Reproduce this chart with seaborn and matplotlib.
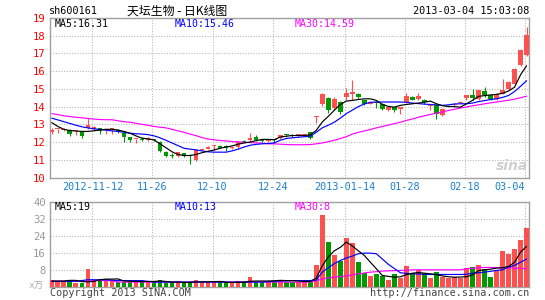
import numpy as np
import pandas as pd
import matplotlib
matplotlib.use("Agg")
import matplotlib.pyplot as plt
import seaborn as sns

# ---------------- data ----------------
opens = [12.56, 12.72, 12.68, 12.69, 12.60, 12.56, 12.81, 12.72, 12.79, 12.66,
         12.72, 12.69, 12.50, 12.28, 12.18, 12.20, 12.10, 12.18, 12.03, 11.45,
         11.26, 11.20, 11.38, 11.26, 11.00, 11.55, 11.60, 11.75, 11.80, 11.80,
         11.68, 11.72, 12.04, 12.10, 12.28, 12.12, 12.05, 12.12, 12.24, 12.40,
         12.41, 12.38, 12.39, 12.56, 13.43, 14.12, 14.50, 13.92, 14.26, 14.54,
         14.73, 14.73, 14.37, 14.15, 14.26, 14.16, 13.80, 13.97, 13.88, 14.26,
         14.54, 14.42, 14.40, 14.05, 14.07, 13.50, 14.00, 14.07, 14.22, 14.46,
         14.63, 14.45, 14.86, 14.63, 14.45, 14.73, 15.01, 15.29, 16.33, 16.90]
closes = [12.69, 12.75, 12.75, 12.43, 12.64, 12.32, 12.98, 12.84, 12.62, 12.70,
          12.77, 12.56, 12.28, 12.10, 12.20, 12.14, 12.24, 12.10, 11.49, 11.24,
          11.22, 11.43, 11.20, 11.22, 11.55, 11.60, 11.72, 11.78, 11.68, 11.68,
          11.71, 12.00, 12.00, 12.22, 12.14, 12.06, 12.10, 12.10, 12.39, 12.37,
          12.32, 12.40, 12.45, 12.24, 13.45, 14.73, 13.82, 14.44, 13.69, 14.76,
          14.82, 14.54, 14.12, 14.26, 14.20, 13.88, 13.97, 13.79, 13.95, 14.60,
          14.40, 14.62, 14.24, 14.07, 13.60, 13.88, 14.01, 14.16, 14.26, 14.63,
          14.46, 14.92, 14.63, 14.42, 14.70, 14.92, 15.38, 16.14, 17.18, 18.02]
highs = [12.80, 12.76, 12.78, 12.72, 12.68, 12.58, 13.37, 12.90, 12.82, 12.75,
         12.80, 12.72, 12.55, 12.30, 12.20, 12.30, 12.26, 12.20, 12.05, 11.47,
         11.40, 11.46, 11.40, 11.34, 11.60, 11.65, 11.75, 11.85, 11.82, 11.82,
         11.74, 12.02, 12.10, 12.50, 12.42, 12.15, 12.12, 12.15, 12.42, 12.42,
         12.43, 12.42, 12.47, 12.58, 13.45, 14.75, 14.52, 14.57, 14.30, 15.05,
         15.50, 14.76, 14.40, 14.30, 14.30, 14.20, 14.00, 14.00, 14.00, 14.75,
         14.58, 14.78, 14.45, 14.10, 14.10, 13.90, 14.05, 14.20, 14.30, 14.66,
         15.00, 14.95, 15.10, 14.66, 14.75, 15.58, 15.42, 16.20, 17.25, 18.49]
lows = [12.45, 12.50, 12.60, 12.35, 12.38, 12.25, 12.75, 12.65, 12.45, 12.45,
        12.45, 12.50, 11.98, 12.02, 11.92, 12.05, 12.05, 12.05, 11.45, 11.18,
        11.12, 11.15, 11.15, 10.77, 10.95, 11.50, 11.58, 11.55, 11.65, 11.47,
        11.60, 11.68, 11.95, 12.08, 12.05, 12.00, 11.98, 12.00, 12.20, 12.30,
        12.28, 12.33, 12.35, 12.20, 13.08, 14.05, 13.66, 13.79, 13.60, 14.38,
        14.40, 14.45, 14.10, 14.12, 13.90, 13.82, 13.75, 13.72, 13.60, 14.20,
        14.35, 14.35, 14.15, 13.80, 13.31, 13.45, 13.95, 14.00, 14.20, 14.35,
        14.40, 14.40, 14.55, 14.38, 14.40, 14.70, 14.95, 15.25, 16.30, 16.85]

ma5 = [13.10, 12.88, 12.72, 12.65, 12.62, 12.60, 12.60, 12.64, 12.68, 12.72,
       12.72, 12.68, 12.60, 12.50, 12.35, 12.22, 12.18, 12.12, 11.90, 11.68,
       11.45, 11.30, 11.24, 11.24, 11.30, 11.40, 11.48, 11.55, 11.65, 11.72,
       11.78, 11.88, 11.95, 12.00, 12.08, 12.15, 12.15, 12.13, 12.28, 12.33,
       12.37, 12.37, 12.37, 12.40, 12.66, 13.13, 13.45, 13.79, 14.12, 14.31,
       14.35, 14.40, 14.44, 14.44, 14.35, 14.12, 14.01, 13.97, 14.07, 14.12,
       14.16, 14.20, 14.25, 14.31, 14.16, 14.05, 14.01, 14.00, 13.97, 14.16,
       14.35, 14.58, 14.62, 14.66, 14.69, 14.75, 14.88, 15.10, 15.80, 16.31]
ma10 = [13.35, 13.25, 13.15, 13.05, 12.95, 12.86, 12.80, 12.75, 12.71, 12.67,
        12.63, 12.60, 12.55, 12.50, 12.47, 12.45, 12.42, 12.35, 12.24, 12.10,
        11.95, 11.80, 11.65, 11.60, 11.56, 11.50, 11.45, 11.43, 11.43, 11.43,
        11.50, 11.60, 11.72, 11.82, 11.87, 11.90, 11.92, 11.95, 12.10, 12.20,
        12.24, 12.27, 12.30, 12.33, 12.55, 12.80, 12.95, 13.12, 13.35, 13.60,
        13.80, 14.00, 14.15, 14.24, 14.26, 14.26, 14.26, 14.26, 14.26, 14.24,
        14.20, 14.17, 14.14, 14.12, 14.10, 14.07, 14.10, 14.15, 14.16, 14.16,
        14.20, 14.28, 14.34, 14.40, 14.44, 14.52, 14.63, 14.85, 15.15, 15.46]
ma30 = [13.60, 13.55, 13.48, 13.44, 13.40, 13.37, 13.33, 13.30, 13.27, 13.26,
        13.26, 13.20, 13.15, 13.12, 13.06, 13.00, 12.95, 12.88, 12.84, 12.80,
        12.72, 12.63, 12.55, 12.45, 12.36, 12.25, 12.17, 12.13, 12.09, 12.06,
        12.03, 12.01, 11.99, 11.97, 11.95, 11.94, 11.90, 11.90, 11.88, 11.86,
        11.85, 11.85, 11.85, 11.86, 11.90, 11.95, 12.02, 12.10, 12.20, 12.30,
        12.45, 12.55, 12.62, 12.71, 12.80, 12.88, 12.96, 13.04, 13.12, 13.22,
        13.30, 13.40, 13.48, 13.56, 13.63, 13.70, 13.78, 13.85, 13.92, 13.98,
        14.05, 14.10, 14.16, 14.21, 14.26, 14.31, 14.36, 14.42, 14.50, 14.59]

volume = [3.3, 2.8, 2.5, 2.1, 1.6, 1.6, 8.4, 2.8, 2.8, 3.2,
          2.8, 2.1, 2.1, 2.1, 2.8, 2.1, 2.8, 2.1, 3.2, 1.6,
          1.6, 2.1, 1.6, 2.1, 3.3, 2.1, 2.1, 2.1, 2.1, 1.6,
          2.1, 2.8, 2.1, 4.7, 2.1, 2.1, 2.1, 2.1, 3.3, 2.1,
          2.1, 2.1, 2.1, 2.8, 10.0, 33.7, 21.0, 14.7, 11.9, 22.9,
          20.6, 11.5, 6.3, 5.2, 5.7, 5.2, 3.3, 5.7, 4.0, 9.5,
          6.3, 7.9, 6.3, 4.0, 6.8, 4.4, 4.1, 4.4, 4.1, 8.7,
          9.2, 10.4, 8.4, 4.7, 7.6, 16.8, 15.5, 17.9, 21.8, 27.7]
vma5 = [2.6, 2.6, 2.6, 2.9, 2.9, 2.3, 2.2, 2.4, 3.2, 3.5,
        3.5, 3.6, 2.6, 2.5, 2.4, 2.3, 2.4, 2.4, 2.6, 2.4,
        2.1, 2.1, 1.9, 1.9, 2.2, 2.2, 2.2, 2.3, 2.4, 2.0,
        1.9, 2.0, 2.0, 2.5, 2.6, 2.6, 2.6, 2.7, 2.9, 2.8,
        2.8, 2.6, 2.4, 2.4, 4.0, 9.8, 14.0, 16.9, 18.5, 21.0,
        19.2, 16.9, 14.7, 11.5, 8.4, 5.2, 4.8, 4.4, 4.6, 5.6,
        6.3, 6.6, 6.3, 6.0, 5.6, 5.0, 4.6, 4.4, 4.5, 4.6,
        5.5, 7.5, 7.9, 8.2, 8.7, 8.9, 9.5, 11.5, 16.3, 19.0]
vma10 = [2.4, 2.4, 2.4, 2.4, 2.5, 2.8, 3.2, 3.2, 3.2, 3.2,
         3.0, 2.8, 2.8, 2.8, 2.8, 2.8, 2.4, 2.1, 2.1, 2.1,
         2.1, 2.1, 2.1, 2.1, 2.1, 2.1, 2.1, 2.1, 2.1, 2.1,
         2.1, 2.1, 2.1, 2.1, 2.1, 2.1, 2.3, 2.5, 2.6, 2.7,
         2.8, 2.8, 2.8, 2.8, 3.0, 6.8, 8.9, 10.8, 12.3, 13.5,
         14.4, 15.5, 15.8, 15.8, 15.5, 13.0, 10.5, 8.5, 6.5, 6.2,
         6.0, 5.9, 5.8, 5.7, 5.7, 5.7, 5.7, 5.7, 5.7, 5.8,
         6.3, 6.5, 6.8, 7.2, 7.6, 7.9, 9.2, 10.0, 11.5, 13.0]
vma30 = [2.5, 2.5, 2.5, 2.5, 2.5, 2.5, 2.5, 2.8, 2.8, 2.8,
         2.8, 2.1, 2.1, 2.1, 2.1, 2.1, 2.1, 2.1, 2.1, 2.1,
         2.1, 2.1, 2.1, 2.1, 2.1, 2.1, 2.1, 2.1, 2.1, 2.1,
         2.1, 2.1, 2.1, 2.1, 2.1, 2.1, 2.1, 2.1, 2.1, 2.1,
         2.1, 2.1, 2.1, 2.1, 2.8, 3.5, 4.1, 4.4, 4.7, 5.0,
         5.5, 6.0, 6.4, 6.8, 7.0, 7.3, 7.4, 7.5, 7.6, 7.7,
         7.9, 7.9, 7.9, 7.9, 7.9, 7.9, 7.9, 7.9, 7.9, 8.4,
         8.6, 8.9, 9.0, 9.0, 9.0, 8.9, 8.8, 8.7, 8.6, 8.4]

date_tick_index = [7, 17, 27, 37, 49, 59, 69, 79]
date_tick_labels = ["2012-11-12", "11-26", "12-10", "12-24",
                    "2013-01-14", "01-28", "02-18", "03-04"]
price_ticks = [10, 11, 12, 13, 14, 15, 16, 17, 18, 19]
vol_ticks = [0, 8, 16, 24, 32, 40]

# ---------------- style ----------------
sns.set_style("white")
plt.rcParams['font.family'] = ['DejaVu Sans Mono', 'Noto Sans CJK SC']

RED = '#ff5050'
GREEN = '#009a00'
GRID = '#b4b4b4'
FRAME = '#a0a0a0'

W, H = 545, 300
fig = plt.figure(figsize=(W / 100, H / 100), dpi=100)

def px_axes(x0, y0, x1, y1):
    return fig.add_axes([x0 / W, 1 - y1 / H, (x1 - x0) / W, (y1 - y0) / H])

ax = px_axes(50, 18, 529.3, 177.5)
axv = px_axes(50, 202, 529.3, 286.5)

o = np.array(opens); c = np.array(closes)
hi = np.array(highs); lo = np.array(lows)
idx = np.arange(len(c))
up = c >= o
cols = np.where(up, RED, GREEN)

grid_pos = np.array(date_tick_index) - 0.25

for a in (ax, axv):
    for s in a.spines.values():
        s.set_color(FRAME)
        s.set_linewidth(1.0)
    a.set_xlim(-0.3, 79.45)
    a.set_axisbelow(True)
    a.grid(True, linestyle=(0, (1, 1.6)), color=GRID, linewidth=0.75)
    a.tick_params(length=0)

# candles
ax.vlines(idx, lo, hi, colors=cols, linewidth=0.8, zorder=2)
body_b = np.minimum(o, c)
body_h = np.maximum(np.abs(c - o), 0.06)
ax.bar(idx, body_h, bottom=body_b, width=0.78, color=cols, linewidth=0, zorder=3)

pal = {'MA5': '#000000', 'MA10': '#0000ff', 'MA30': '#ff00ff'}
order = ['MA30', 'MA10', 'MA5']
dfp = pd.DataFrame({'i': idx, 'MA5': ma5, 'MA10': ma10, 'MA30': ma30}).melt('i')
sns.lineplot(data=dfp, x='i', y='value', hue='variable', hue_order=order,
             palette=pal, ax=ax, legend=False, linewidth=0.85, zorder=4)

ax.set_ylim(10, 19)
ax.set_yticks(price_ticks)
ax.set_yticklabels([str(t) for t in price_ticks], color='#ff0000', fontsize=7.6)
ax.set_xticks(grid_pos)
ax.set_xticklabels(date_tick_labels, color='#1a80d0', fontsize=7.3)
ax.xaxis.get_majorticklabels()[-1].set_horizontalalignment('right')
ax.tick_params(axis='y', pad=3)
ax.tick_params(axis='x', pad=3)
ax.set_xlabel(''); ax.set_ylabel('')

# volume
axv.bar(idx, volume, width=0.78, color=cols, linewidth=0, zorder=3)
dfv = pd.DataFrame({'i': idx, 'MA5': vma5, 'MA10': vma10, 'MA30': vma30}).melt('i')
sns.lineplot(data=dfv, x='i', y='value', hue='variable', hue_order=order,
             palette=pal, ax=axv, legend=False, linewidth=0.85, zorder=4)
axv.set_ylim(0, 40)
axv.set_yticks(vol_ticks)
axv.set_yticklabels([''] + [str(t) for t in vol_ticks[1:]], color='#999999', fontsize=7.6)
axv.set_xticks(grid_pos)
axv.set_xticklabels([])
axv.tick_params(axis='y', pad=3)
axv.set_xlabel(''); axv.set_ylabel('')

def ftext(x, y, s, **kw):
    fig.text(x / W, 1 - y / H, s, **kw)

# header
ftext(49, 11, "sh600161", fontsize=7.3, va='center', ha='left', color='#000000')
ftext(177, 11, "天坛生物 - 日K线图", fontsize=8.6, va='center', ha='center',
      family=['Noto Sans CJK SC', 'DejaVu Sans'], color='#000000')
ftext(529.5, 11, "2013-03-04 15:03:08", fontsize=7.3, va='center', ha='right', color='#000000')

# MA labels
ftext(55, 24, "MA5:16.31", fontsize=7.1, va='center', ha='left', color=pal['MA5'])
ftext(175, 24, "MA10:15.46", fontsize=7.1, va='center', ha='left', color=pal['MA10'])
ftext(295, 24, "MA30:14.59", fontsize=7.1, va='center', ha='left', color=pal['MA30'])
ftext(55, 206.5, "MA5:19", fontsize=7.1, va='center', ha='left', color=pal['MA5'])
ftext(175, 206.5, "MA10:13", fontsize=7.1, va='center', ha='left', color=pal['MA10'])
ftext(295, 206.5, "MA30:8", fontsize=7.1, va='center', ha='left', color=pal['MA30'])

# watermark
ftext(512, 166, "sina", fontsize=10, va='center', ha='center', color='#cfcfcf',
      style='italic', weight='bold', family=['DejaVu Sans'])

# bottom
ftext(44, 285.5, "x万", fontsize=6.8, va='center', ha='right', color='#aaaaaa',
      family=['DejaVu Sans Mono', 'Noto Sans CJK SC'])
ftext(50, 292.5, "Copyright 2013 SINA.COM", fontsize=7.3, va='center', ha='left', color='#444444')
ftext(529.5, 292.5, "http://finance.sina.com.cn", fontsize=7.3, va='center', ha='right', color='#444444')

fig.savefig("out.png", dpi=100)
